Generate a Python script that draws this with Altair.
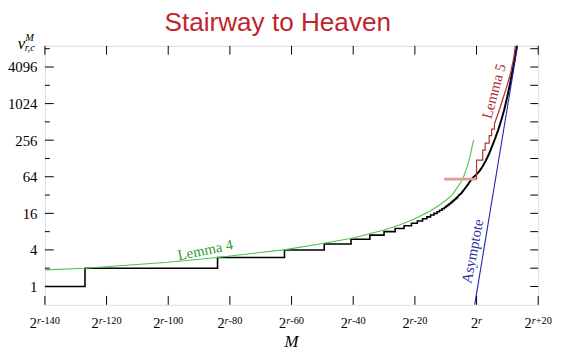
import altair as alt
import pandas as pd

# ---------------- data ----------------
# x is the exponent of M relative to r  (M = 2^(r+e)),  y is nu (log2 axis)
x_ticks = [-140, -120, -100, -80, -60, -40, -20, 0, 20]
x_tick_sup = ["-140", "-120", "-100", "-80", "-60", "-40", "-20", "", "+20"]
y_major = [1, 4, 16, 64, 256, 1024, 4096]
y_minor = [2, 8, 32, 128, 512, 2048, 8192]
y_all = [1, 2, 4, 8, 16, 32, 64, 128, 256, 512, 1024, 2048, 4096, 8192]

# black staircase (value switches at each e)
stair_e = [-140, -127, -84, -62.3, -49.4, -40.7, -34.6, -30.0, -26.4, -23.5,
           -21.1, -19.2, -17.5, -16.1, -14.9, -13.8, -12.8, -12.0, -11.2,
           -10.5, -9.9, -9.4, -8.9, -8.4, -8.0, -7.6, -7.2, -6.8, -6.5, -6.2,
           -6.0]
stair_nu = [1, 2, 3, 4, 5, 6, 7, 8, 9, 10, 11, 12, 13, 14, 15, 16, 17, 18,
            19, 20, 21, 22, 23, 24, 25, 26, 27, 28, 29, 30, 31]
# black continuation (dense steps -> smooth curve)
black_e = [-6.0, -5, -4, -3, -2, -1, 0, 1, 2, 3, 4, 5, 6, 7, 8, 9, 10, 11,
           12, 13, 13.4]
black_nu = [31, 34, 39.5, 46, 55, 63, 70, 80, 95, 118, 150, 200, 270, 375,
            540, 820, 1350, 2350, 4400, 8500, 10500]

# Lemma 4 (green)
green_e = [-140, -127, -100, -84, -62, -50, -40, -30, -25, -20, -15, -12,
           -10, -8, -6, -5, -4, -3, -2, -1.2, -0.9]
green_nu = [1.88, 2.0, 2.5, 3.0, 4.05, 5.1, 6.3, 8.5, 10.3, 13, 17.5, 22,
            26, 32, 44, 53, 68, 95, 145, 230, 256]

# Lemma 5 (red): flat part, steps, then smooth
red_flat_e = [-10.5, 0]
red_flat_nu = [58.5, 58.5]
red_step_e = [0, 0, 2.0, 2.8, 4.1, 4.9, 5.8]
red_step_nu = [58.5, 120, 175, 229, 304, 388, 478]
red_e = [5.8, 7, 8, 9, 10, 11, 12, 12.6, 12.8]
red_nu = [478, 700, 1000, 1450, 2100, 3200, 5500, 9150, 10500]

# Asymptote (blue)
blue_e = [-0.6, 13.5]
blue_nu = [0.5, 10500]

# annotations
notes = [
    {"e": -88, "v": 4.0, "t": "Lemma 4", "c": "#2f9a2f", "a": 348.5},
    {"e": 5.6, "v": 1640, "t": "Lemma 5", "c": "#a83232", "a": 285},
    {"e": -1.3, "v": 3.8, "t": "Asymptote", "c": "#3333a0", "a": 281},
]

# ---------------- chart ----------------
W, H = 500, 262.5
SERIF = "Liberation Serif"
BASE_FS, SUP_FS = 14.5, 10.5

xs = alt.Scale(domain=[-140, 20], nice=False, zero=False)
ys = alt.Scale(type="log", base=2, domain=[0.5, 9150], nice=False)

y_axis = alt.Axis(values=y_major, format="d", ticks=False, domain=False,
                  grid=False, labelFont=SERIF, labelFontSize=15,
                  labelColor="black", labelPadding=8, title=None)

X = alt.X("e:Q", scale=xs, axis=None)
Y = alt.Y("v:Q", scale=ys, axis=y_axis)


def df(e, v):
    return pd.DataFrame({"e": e, "v": v}).reset_index()


def line(e, v, color, width, interp="linear"):
    return alt.Chart(df(e, v)).mark_line(
        interpolate=interp, color=color, strokeWidth=width, clip=True
    ).encode(x=X, y=Y, order="index:Q")


stairs = line(stair_e, stair_nu, "black", 1.6, "step-after")
black = line(black_e, black_nu, "black", 2.0)
green = line(green_e, green_nu, "#4cc34c", 1.1)
red_flat = line(red_flat_e, red_flat_nu, "#e49a9a", 2.6)
red_steps = line(red_step_e, red_step_nu, "#b83030", 1.2, "step-after")
red = line(red_e, red_nu, "#b83030", 1.3)
blue = line(blue_e, blue_nu, "#2222b4", 1.1)

texts = [
    alt.Chart(pd.DataFrame([n])).mark_text(
        font=SERIF, fontSize=15, angle=n["a"], color=n["c"],
        baseline="middle", align="center"
    ).encode(x=X, y=Y, text="t:N")
    for n in notes
]

# inward tick marks on the four sides
tb = pd.DataFrame({"e": x_ticks})
bottom_ticks = alt.Chart(tb).mark_rule(color="black", strokeWidth=1).encode(
    x=X, y=alt.value(H), y2=alt.value(H - 9))
top_ticks = alt.Chart(tb).mark_rule(color="black", strokeWidth=1).encode(
    x=X, y=alt.value(0), y2=alt.value(9))
left_major = alt.Chart(pd.DataFrame({"v": y_major})).mark_rule(
    color="black", strokeWidth=1).encode(
    y=Y, x=alt.value(0), x2=alt.value(9))
left_minor = alt.Chart(pd.DataFrame({"v": y_minor})).mark_rule(
    color="black", strokeWidth=1).encode(
    y=Y, x=alt.value(0), x2=alt.value(5))
right_ticks = alt.Chart(pd.DataFrame({"v": y_all})).mark_rule(
    color="black", strokeWidth=1).encode(
    y=Y, x=alt.value(W - 8), x2=alt.value(W))

# x tick labels 2^{r...}: base "2", italic "r", upright rest, centred on tick
CW = {"-": 0.333, "+": 0.564}
px_to_e = 160 / W
rows = []
for t, s in zip(x_ticks, x_tick_sup):
    w2 = 0.5 * BASE_FS
    wr = 0.389 * SUP_FS
    wrest = sum(CW.get(ch, 0.5) for ch in s) * SUP_FS
    junction = -(w2 + wr + wrest) / 2 + w2
    rows.append({"e": t + junction * px_to_e,
                 "er": t + (junction + wr) * px_to_e,
                 "rest": s})
lab = pd.DataFrame(rows)
lab_two = alt.Chart(lab).mark_text(
    font=SERIF, fontSize=BASE_FS, align="right", baseline="alphabetic",
    color="black").encode(x=X, y=alt.value(H + 24), text=alt.value("2"))
lab_r = alt.Chart(lab).mark_text(
    font=SERIF, fontSize=SUP_FS, fontStyle="italic", align="left",
    baseline="alphabetic", color="black").encode(
    x=X, y=alt.value(H + 19), text=alt.value("r"))
lab_rest = alt.Chart(lab).mark_text(
    font=SERIF, fontSize=SUP_FS, align="left", baseline="alphabetic",
    color="black").encode(
    x=alt.X("er:Q", scale=xs, axis=None), y=alt.value(H + 19),
    text="rest:N")

# title, x-axis symbol M and y-axis symbol nu^M_{r,c}
one = pd.DataFrame({"k": [0]})
title = alt.Chart(one).mark_text(
    font="Liberation Sans", fontSize=26.5, color="#c0262c", align="center",
    baseline="alphabetic").encode(
    x=alt.value(W / 2 - 14), y=alt.value(-15.4),
    text=alt.value("Stairway to Heaven"))
xlab = alt.Chart(one).mark_text(
    font=SERIF, fontSize=17, fontStyle="italic", align="center",
    baseline="alphabetic", color="black").encode(
    x=alt.value(W / 2), y=alt.value(H + 43), text=alt.value("M"))
ylab_nu = alt.Chart(one).mark_text(
    font=SERIF, fontSize=17, fontStyle="italic", align="left",
    baseline="alphabetic", color="black").encode(
    x=alt.value(-27.5), y=alt.value(3), text=alt.value("ν"))
ylab_sup = alt.Chart(one).mark_text(
    font=SERIF, fontSize=10.5, fontStyle="italic", align="left",
    baseline="alphabetic", color="black").encode(
    x=alt.value(-20), y=alt.value(-5), text=alt.value("M"))
ylab_sub = alt.Chart(one).mark_text(
    font=SERIF, fontSize=10.5, fontStyle="italic", align="left",
    baseline="alphabetic", color="black").encode(
    x=alt.value(-20.5), y=alt.value(5), text=alt.value("r,c"))

chart = alt.layer(
    stairs, black, green, red_flat, red_steps, red, blue, *texts,
    bottom_ticks, top_ticks, left_major, left_minor, right_ticks,
    lab_two, lab_r, lab_rest,
    title, xlab, ylab_nu, ylab_sup, ylab_sub
).properties(
    width=W, height=H,
    autosize=alt.AutoSizeParams(type="none"),
    padding={"left": 37.4, "top": 36, "right": 15, "bottom": 43.5},
).configure_view(stroke="black", strokeWidth=1.3).configure(
    background="white")

chart.save("out.html", embed_options={"renderer": "svg", "actions": False})
